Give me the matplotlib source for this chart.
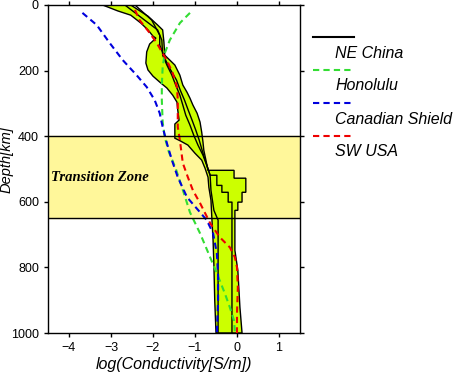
import matplotlib
matplotlib.use("Agg")
import matplotlib.pyplot as plt
from matplotlib.lines import Line2D

plt.rcParams["font.family"] = ["Liberation Sans", "DejaVu Sans"]

# envelope of the NE China models (left / right boundary), log10 S/m vs depth km
env_left_c = [-3.20, -2.84, -2.53, -2.29, -2.12, -2.00, -1.93, -2.08, -2.15, -2.17,
              -2.12, -2.00, -1.84, -1.67, -1.53, -1.43, -1.41, -1.38, -1.48, -1.48,
              -1.34, -1.17, -1.00, -0.84, -0.76, -0.69, -0.67, -0.62, -0.60, -0.57,
              -0.55, -0.53, -0.50]
env_left_d = [0, 18, 31, 55, 76, 95, 101, 119, 143, 177,
              198, 217, 235, 253, 275, 296, 321, 351, 363, 406,
              415, 427, 452, 473, 498, 525, 556, 595, 647, 717,
              794, 901, 1000]
env_right_c = [-2.53, -2.12, -1.89, -1.77, -1.74, -1.72, -1.48, -1.36, -1.29, -1.19,
               -1.12, -1.05, -0.95, -0.88, -0.84, -0.81, -0.79, -0.74, -0.69, -0.07,
               -0.07, 0.21, 0.21, 0.12, 0.12, 0.02, 0.02, -0.05, -0.05, 0.02,
               0.07, 0.12]
env_right_d = [0, 34, 61, 76, 113, 153, 183, 214, 244, 266,
               284, 305, 330, 357, 388, 418, 443, 473, 504, 504,
               528, 528, 571, 571, 601, 601, 626, 626, 748, 809,
               922, 1000]

# inner model outlines
inner_a_c = [-2.67, -2.20, -1.89, -1.79, -1.77, -1.67, -1.55, -1.46, -1.36, -1.29,
             -1.22, -1.12, -1.03, -0.93, -0.81, -0.72, -0.64, -0.62, -0.55, -0.45, -0.45]
inner_a_d = [0, 46, 76, 107, 153, 183, 214, 244, 275, 305,
             336, 366, 397, 427, 458, 488, 519, 565, 626, 656, 1000]
inner_b_c = [-2.43, -2.03, -1.84, -1.84, -1.70, -1.58, -1.44, -1.35, -1.25, -1.16,
             -1.07, -0.98, -0.90, -0.83, -0.76, -0.64, -0.48, -0.48, -0.36, -0.36,
             -0.21, -0.21, -0.12, -0.12]
inner_b_d = [0, 46, 92, 122, 168, 198, 229, 260, 290, 321,
             351, 382, 412, 443, 473, 519, 519, 550, 550, 571,
             571, 601, 601, 1000]

honolulu_c = [-1.12, -1.36, -1.60, -1.72, -1.77, -1.79, -1.79, -1.77, -1.72, -1.62,
              -1.46, -1.31, -1.12, -0.88, -0.64, -0.48, -0.29, -0.17, -0.07, -0.05]
honolulu_d = [24, 55, 107, 147, 189, 244, 290, 357, 403, 449,
              498, 556, 632, 696, 769, 818, 879, 922, 962, 1000]

shield_c = [-3.68, -3.34, -3.03, -2.72, -2.39, -2.15, -1.96, -1.84, -1.77, -1.67,
            -1.55, -1.41, -1.19, -0.88, -0.72, -0.57, -0.48, -0.45, -0.45, -0.48]
shield_d = [24, 61, 116, 168, 214, 250, 290, 330, 372, 421,
            473, 525, 586, 632, 656, 696, 757, 824, 901, 1000]

swusa_c = [-2.43, -2.32, -2.08, -1.91, -1.77, -1.65, -1.53, -1.43, -1.41, -1.41,
           -1.36, -1.29, -1.17, -1.05, -0.88, -0.64, -0.41, -0.17, -0.05, 0.00,
           0.02, 0.00, 0.00]
swusa_d = [15, 46, 85, 116, 147, 174, 208, 250, 290, 372,
           412, 482, 525, 565, 604, 665, 708, 739, 769, 800,
           861, 940, 1000]

tz_top, tz_bottom = 400, 650
legend_names = ["NE China", "Honolulu", "Canadian Shield", "SW USA"]

GREEN_FILL = "#ccff00"
HON = "#33dd33"
SHIELD = "#0000dd"
SW = "#ee0000"

fig = plt.figure(figsize=(4.54, 3.76), dpi=100)
ax = fig.add_axes([48 / 454, 1 - 333 / 376, 252 / 454, 328 / 376])

ax.axhspan(tz_top, tz_bottom, color="#fff79a", zorder=0)
ax.axhline(tz_top, color="black", lw=1, zorder=5)
ax.axhline(tz_bottom, color="black", lw=1, zorder=5)
ax.text(-4.42, 525, "Transition Zone", family=["Liberation Serif", "DejaVu Serif"],
        style="italic", weight="bold", fontsize=10.5, va="center", ha="left")

poly_c = env_left_c + env_right_c[::-1]
poly_d = env_left_d + env_right_d[::-1]
ax.fill(poly_c, poly_d, facecolor=GREEN_FILL, edgecolor="black", lw=1, zorder=2)
ax.plot(inner_a_c, inner_a_d, color="black", lw=1, zorder=3)
ax.plot(inner_b_c, inner_b_d, color="black", lw=1, zorder=3)

dash = (0, (3, 2))
ax.plot(honolulu_c, honolulu_d, color=HON, lw=1.5, ls=dash, zorder=4)
ax.plot(shield_c, shield_d, color=SHIELD, lw=1.5, ls=dash, zorder=4)
ax.plot(swusa_c, swusa_d, color=SW, lw=1.5, ls=dash, zorder=4)

ax.set_xlim(-4.5, 1.5)
ax.set_ylim(1000, 0)
ax.set_xticks([-4, -3, -2, -1, 0, 1])
ax.set_yticks([0, 200, 400, 600, 800, 1000])
ax.tick_params(direction="out", length=3, width=1, labelsize=9,
               top=True, right=True, labeltop=False, labelright=False)
for s in ax.spines.values():
    s.set_linewidth(1)
ax.set_xlabel("log(Conductivity[S/m])", style="italic", fontsize=11.5, labelpad=2)
ax.set_ylabel("Depth[km]", style="italic", fontsize=10.5)
ax.yaxis.set_label_coords(-34 / 252, 0.53)

# legend drawn by hand outside the axes
leg_styles = [("black", "-"), (HON, dash), (SHIELD, dash), (SW, dash)]
for i, (name, (col, ls)) in enumerate(zip(legend_names, leg_styles)):
    yl = 1 - (37 + 33 * i) / 376
    yt = 1 - (53 + 33 * i) / 376
    fig.add_artist(Line2D([313 / 454, 354 / 454], [yl, yl], color=col, lw=1.5, ls=ls))
    fig.text(335 / 454, yt, name, style="italic", fontsize=11.5, va="center", ha="left")

fig.savefig("out.png", dpi=100)
